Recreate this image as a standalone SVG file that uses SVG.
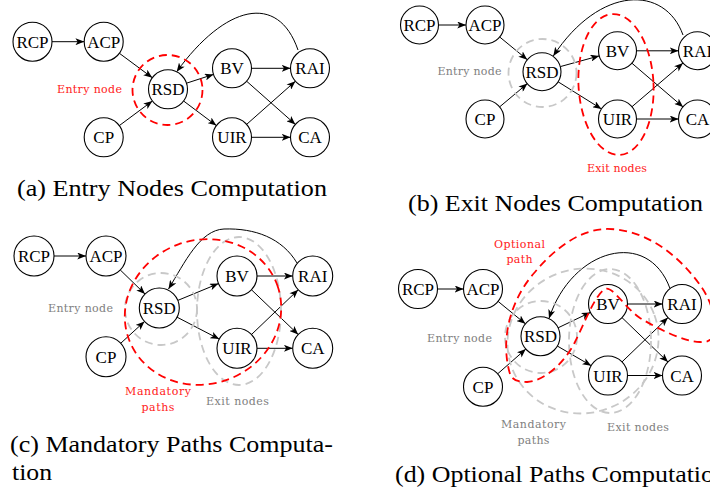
<svg xmlns="http://www.w3.org/2000/svg" width="710" height="491" viewBox="0 0 710 491">
<style>
.n circle{fill:#fff;stroke:#000;stroke-width:1.1}
.n text{font-family:"Liberation Serif",serif;font-size:17px;text-anchor:middle;fill:#000}
.e{fill:none;stroke:#000;stroke-width:1;marker-end:url(#ah)}
.rd{fill:none;stroke:#f00;stroke-width:1.8;stroke-dasharray:8 5}
.gd{fill:none;stroke:#c8c8c8;stroke-width:1.8;stroke-dasharray:8 5}
.lr{font-family:"DejaVu Serif",serif;font-size:11px;fill:#ff2020;text-anchor:middle}
.lg{font-family:"DejaVu Serif",serif;font-size:11px;fill:#808080;text-anchor:middle}
.cap{font-family:"Liberation Serif",serif;font-size:23px;fill:#000}
</style>
<defs>
<marker id="ah" viewBox="0 0 10 8" refX="10" refY="4" markerWidth="9" markerHeight="7" markerUnits="userSpaceOnUse" orient="auto"><path d="M0,0 L10,4 L0,8 L2.5,4 z" fill="#000"/></marker>
</defs>
<rect width="710" height="491" fill="#fff"/>

<!-- Panel (a) -->
<g id="panel-a">
<g id="a-edges">
<line class="e" x1="52" y1="41.7" x2="84.2" y2="41.7"/>
<line class="e" x1="119.4" y1="53.3" x2="152.3" y2="77.7"/>
<line class="e" x1="119.3" y1="125.6" x2="152.4" y2="101"/>
<line class="e" x1="186.5" y1="83.2" x2="213.5" y2="74.4"/>
<line class="e" x1="183.6" y1="101" x2="216.4" y2="125.6"/>
<line class="e" x1="251.5" y1="68.3" x2="290.5" y2="68.3"/>
<line class="e" x1="246.6" y1="81.2" x2="295.4" y2="124.4"/>
<line class="e" x1="246.6" y1="124.4" x2="295.4" y2="81.2"/>
<line class="e" x1="251.5" y1="137.3" x2="290.5" y2="137.3"/>
<path class="e" d="M298,50 C278,-8 225,5 176.7,71.7"/>
</g>
<g id="a-RCP" class="n"><circle cx="32.5" cy="41.7" r="19.5"/><text x="32.5" y="47.7">RCP</text></g>
<g id="a-ACP" class="n"><circle cx="103.7" cy="41.7" r="19.5"/><text x="103.7" y="47.7">ACP</text></g>
<g id="a-RSD" class="n"><circle cx="168" cy="89.3" r="19.5"/><text x="168" y="95.3">RSD</text></g>
<g id="a-CP" class="n"><circle cx="103.7" cy="137.3" r="19.5"/><text x="103.7" y="143.3">CP</text></g>
<g id="a-BV" class="n"><circle cx="232" cy="68.3" r="19.5"/><text x="232" y="74.3">BV</text></g>
<g id="a-UIR" class="n"><circle cx="232" cy="137.3" r="19.5"/><text x="232" y="143.3">UIR</text></g>
<g id="a-RAI" class="n"><circle cx="310" cy="68.3" r="19.5"/><text x="310" y="74.3">RAI</text></g>
<g id="a-CA" class="n"><circle cx="310" cy="137.3" r="19.5"/><text x="310" y="143.3">CA</text></g>
<g id="a-entry"><circle class="rd" cx="167.5" cy="90" r="35"/><text class="lr" x="89.5" y="93" textLength="65">Entry node</text></g>
<text class="cap" x="17" y="196" textLength="310" lengthAdjust="spacingAndGlyphs">(a) Entry Nodes Computation</text>
</g>

<!-- Panel (b) -->
<g id="panel-b">
<g id="b-edges">
<line class="e" x1="438.5" y1="25" x2="466" y2="25"/>
<line class="e" x1="499.7" y1="37" x2="527.3" y2="59.7"/>
<line class="e" x1="499.6" y1="106.9" x2="527.4" y2="83.6"/>
<line class="e" x1="560.3" y1="66.6" x2="599.2" y2="55.9"/>
<line class="e" x1="558.1" y1="81.8" x2="601.4" y2="108.9"/>
<line class="e" x1="636.5" y1="50.8" x2="678.5" y2="50.8"/>
<line class="e" x1="631.9" y1="63.2" x2="683.1" y2="107"/>
<line class="e" x1="632" y1="106.7" x2="683" y2="63.1"/>
<line class="e" x1="636.5" y1="119" x2="678.5" y2="119"/>
<path class="e" d="M683,35 C665,-15 600,-15 553.3,56"/>
</g>
<g id="b-RCP" class="n"><circle cx="419.5" cy="25" r="19"/><text x="419.5" y="31">RCP</text></g>
<g id="b-ACP" class="n"><circle cx="485" cy="25" r="19"/><text x="485" y="31">ACP</text></g>
<g id="b-RSD" class="n"><circle cx="542" cy="71.7" r="19"/><text x="542" y="77.7">RSD</text></g>
<g id="b-CP" class="n"><circle cx="485" cy="119" r="19"/><text x="485" y="125">CP</text></g>
<g id="b-BV" class="n"><circle cx="617.5" cy="50.8" r="19"/><text x="617.5" y="56.8">BV</text></g>
<g id="b-UIR" class="n"><circle cx="617.5" cy="119" r="19"/><text x="617.5" y="125">UIR</text></g>
<g id="b-RAI" class="n"><circle cx="697.5" cy="50.8" r="19"/><text x="697.5" y="56.8">RAI</text></g>
<g id="b-CA" class="n"><circle cx="697.5" cy="119" r="19"/><text x="697.5" y="125">CA</text></g>
<g id="b-entry"><circle class="gd" cx="542.5" cy="73" r="34"/><text class="lg" x="469.5" y="75" textLength="64">Entry node</text></g>
<g id="b-exit"><ellipse class="rd" cx="616" cy="84.5" rx="37.5" ry="70.5" transform="rotate(-3 616 84.5)"/><text class="lr" x="617" y="171.7" textLength="60">Exit nodes</text></g>
<text class="cap" x="408" y="211" textLength="295" lengthAdjust="spacingAndGlyphs">(b) Exit Nodes Computation</text>
</g>

<!-- Panel (c) -->
<g id="panel-c">
<g id="c-edges">
<line class="e" x1="54" y1="256" x2="86" y2="256"/>
<line class="e" x1="120.3" y1="270" x2="145" y2="294"/>
<line class="e" x1="120.8" y1="343.2" x2="144.5" y2="321.5"/>
<line class="e" x1="177.8" y1="300.4" x2="218.5" y2="283.6"/>
<line class="e" x1="177.1" y1="317.2" x2="219.2" y2="339.1"/>
<line class="e" x1="257" y1="276" x2="292.7" y2="276"/>
<line class="e" x1="251.5" y1="289.8" x2="298.2" y2="334.5"/>
<line class="e" x1="251.5" y1="334.5" x2="298.2" y2="289.8"/>
<line class="e" x1="257" y1="348.3" x2="292.7" y2="348.3"/>
<path class="e" d="M297,263 C282,238 255,228 224,229 C200,230 185,262 168.5,289"/>
</g>
<g id="c-RCP" class="n"><circle cx="34" cy="256" r="20"/><text x="34" y="262">RCP</text></g>
<g id="c-ACP" class="n"><circle cx="106" cy="256" r="20"/><text x="106" y="262">ACP</text></g>
<g id="c-RSD" class="n"><circle cx="159.3" cy="308" r="20"/><text x="159.3" y="314">RSD</text></g>
<g id="c-CP" class="n"><circle cx="106" cy="356.7" r="20"/><text x="106" y="362.7">CP</text></g>
<g id="c-BV" class="n"><circle cx="237" cy="276" r="20"/><text x="237" y="282">BV</text></g>
<g id="c-UIR" class="n"><circle cx="237" cy="348.3" r="20"/><text x="237" y="354.3">UIR</text></g>
<g id="c-RAI" class="n"><circle cx="312.7" cy="276" r="20"/><text x="312.7" y="282">RAI</text></g>
<g id="c-CA" class="n"><circle cx="312.7" cy="348.3" r="20"/><text x="312.7" y="354.3">CA</text></g>
<g id="c-entry"><circle class="gd" cx="161" cy="309" r="36"/><text class="lg" x="80.5" y="311.7" textLength="65">Entry node</text></g>
<g id="c-exit"><ellipse class="gd" cx="239" cy="311" rx="42" ry="74"/><text class="lg" x="237.5" y="405" textLength="63">Exit nodes</text></g>
<g id="c-mand"><ellipse class="rd" cx="203" cy="312" rx="79" ry="72" transform="rotate(-20 203 312)"/><text class="lr" x="158" y="395" textLength="66">Mandatory</text><text class="lr" x="158" y="410.7" textLength="33">paths</text></g>
<text class="cap" x="10" y="451.7" textLength="323" lengthAdjust="spacingAndGlyphs">(c) Mandatory Paths Computa-</text>
<text class="cap" x="12" y="480" textLength="40" lengthAdjust="spacingAndGlyphs">tion</text>
</g>

<!-- Panel (d) -->
<g id="panel-d">
<g id="d-edges">
<line class="e" x1="437.5" y1="289" x2="463.5" y2="289"/>
<line class="e" x1="498.1" y1="301.4" x2="525.4" y2="323.8"/>
<line class="e" x1="497.7" y1="373.8" x2="525.8" y2="349.1"/>
<line class="e" x1="558.1" y1="327.8" x2="590.4" y2="312.4"/>
<line class="e" x1="557.3" y1="346" x2="591.2" y2="365.7"/>
<line class="e" x1="627.5" y1="304" x2="662.5" y2="304"/>
<line class="e" x1="622" y1="317.6" x2="668" y2="362"/>
<line class="e" x1="622" y1="361.9" x2="668" y2="317.6"/>
<line class="e" x1="627.5" y1="375.5" x2="662.5" y2="375.5"/>
<path class="e" d="M670,288.5 C648,228 572,248 549,318.5"/>
</g>
<g id="d-RCP" class="n"><circle cx="418" cy="289" r="19.5"/><text x="418" y="295">RCP</text></g>
<g id="d-ACP" class="n"><circle cx="483" cy="289" r="19.5"/><text x="483" y="295">ACP</text></g>
<g id="d-RSD" class="n"><circle cx="540.5" cy="336.2" r="19.5"/><text x="540.5" y="342.2">RSD</text></g>
<g id="d-CP" class="n"><circle cx="483" cy="386.7" r="19.5"/><text x="483" y="392.7">CP</text></g>
<g id="d-BV" class="n"><circle cx="608" cy="304" r="19.5"/><text x="608" y="310">BV</text></g>
<g id="d-UIR" class="n"><circle cx="608" cy="375.5" r="19.5"/><text x="608" y="381.5">UIR</text></g>
<g id="d-RAI" class="n"><circle cx="682" cy="304" r="19.5"/><text x="682" y="310">RAI</text></g>
<g id="d-CA" class="n"><circle cx="682" cy="375.5" r="19.5"/><text x="682" y="381.5">CA</text></g>
<g id="d-entry"><circle class="gd" cx="541" cy="337" r="36"/><text class="lg" x="459.5" y="341.7" textLength="65">Entry node</text></g>
<g id="d-exit"><ellipse class="gd" cx="610" cy="341" rx="41" ry="72"/><text class="lg" x="638" y="430.7" textLength="62">Exit nodes</text></g>
<g id="d-mand"><ellipse class="gd" cx="583" cy="341" rx="76" ry="72" transform="rotate(-20 583 341)"/><text class="lg" x="533.5" y="428" textLength="65">Mandatory</text><text class="lg" x="533.5" y="443.5" textLength="32">paths</text></g>
<g id="d-opt"><path class="rd" d="M510,374 C500,340 510,300 535,272 C555,248 580,230 605,229 C640,228 675,250 700,285 C715,305 725,345 700,342 C685,342 660,330 640,318 C625,308 612,285 605,289 C595,295 585,322 575,342 C565,362 545,381 527,382 C516,382 512,379 510,374 Z"/><text class="lr" x="519.5" y="247.7" textLength="51">Optional</text><text class="lr" x="519.5" y="263" textLength="26">path</text></g>
<text class="cap" x="395" y="481.7" textLength="332" lengthAdjust="spacingAndGlyphs">(d) Optional Paths Computation</text>
</g>
</svg>
